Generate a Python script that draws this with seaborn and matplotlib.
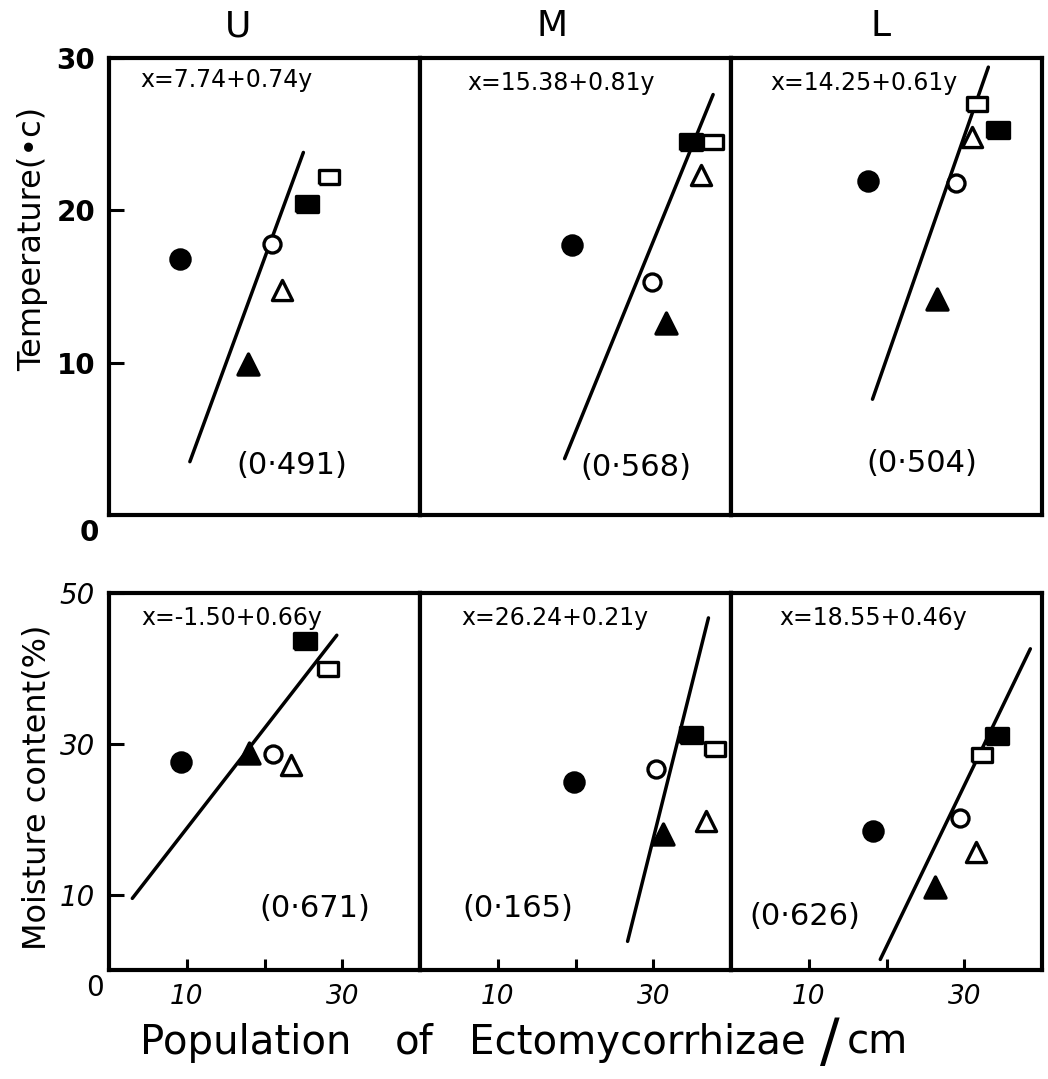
import matplotlib
matplotlib.use("Agg")
import matplotlib.pyplot as plt
import seaborn as sns
import pandas as pd

sns.set_theme(style="white")
plt.rcParams['font.family'] = ['DejaVu Sans']
plt.rcParams['text.color'] = 'black'
plt.rcParams['axes.labelcolor'] = 'black'
plt.rcParams['xtick.color'] = 'black'
plt.rcParams['ytick.color'] = 'black'

# ---------------- data ----------------
sites = ["U", "M", "L"]
symbols = ["filled_circle", "open_circle", "filled_triangle",
           "open_triangle", "filled_square", "open_square"]

# Temperature (top row): population (x) and temperature (y) per symbol
temp_pop = {
    "U": [9.1, 21.0, 17.9, 22.2, 25.5, 28.3],
    "M": [19.6, 29.9, 31.6, 36.2, 34.8, 37.7],
    "L": [17.6, 28.9, 26.5, 31.0, 34.3, 31.6],
}
temp_val = {
    "U": [16.8, 17.8, 9.9, 14.8, 20.4, 22.2],
    "M": [17.7, 15.3, 12.6, 22.3, 24.5, 24.5],
    "L": [21.9, 21.8, 14.2, 24.8, 25.3, 27.0],
}
temp_line_x = {"U": [10.4, 25.0], "M": [18.6, 37.7], "L": [18.2, 33.1]}
temp_line_y = {"U": [3.5, 23.8], "M": [3.7, 27.6], "L": [7.6, 29.4]}
temp_eq = {"U": "x=7.74+0.74y", "M": "x=15.38+0.81y", "L": "x=14.25+0.61y"}
temp_r = {"U": "(0·491)", "M": "(0·568)", "L": "(0·504)"}

# Moisture (bottom row)
moist_pop = {
    "U": [9.3, 21.1, 18.0, 23.4, 25.2, 28.2],
    "M": [19.8, 30.3, 31.3, 36.8, 34.8, 37.9],
    "L": [18.2, 29.5, 26.2, 31.5, 34.2, 32.3],
}
moist_val = {
    "U": [27.6, 28.6, 28.8, 27.2, 43.6, 39.9],
    "M": [24.9, 26.7, 18.0, 19.8, 31.2, 29.3],
    "L": [18.4, 20.1, 11.0, 15.6, 31.1, 28.5],
}
moist_line_x = {"U": [3.0, 29.3], "M": [26.7, 37.1], "L": [19.2, 38.5]}
moist_line_y = {"U": [9.5, 44.4], "M": [3.8, 46.7], "L": [1.4, 42.6]}
moist_eq = {"U": "x=-1.50+0.66y", "M": "x=26.24+0.21y", "L": "x=18.55+0.46y"}
moist_r = {"U": "(0·671)", "M": "(0·165)", "L": "(0·626)"}

temp_yticks = [10, 20, 30]
moist_yticks = [10, 30, 50]
pop_xticks = [10, 20, 30]
pop_xticklabels = ["10", "", "30"]

# ---------------- styles ----------------
rect = [(-1, -0.72), (1, -0.72), (1, 0.72), (-1, 0.72), (-1, -0.72)]
mstyle = {
    "filled_circle":   dict(marker="o", s=190, color="black"),
    "open_circle":     dict(marker="o", s=150, color="white"),
    "filled_triangle": dict(marker="^", s=230, color="black"),
    "open_triangle":   dict(marker="^", s=210, color="white"),
    "filled_square":   dict(marker=rect, s=230, color="black"),
    "open_square":     dict(marker=rect, s=190, color="white"),
}

W, H = 1048, 1079
fig = plt.figure(figsize=(W / 100, H / 100), dpi=100)

lefts = [109, 420, 731]
pw = 311
rows = [(58, 515), (593, 970)]

eq_pos_top = {"U": (0.379, 0.952), "M": (0.453, 0.946), "L": (0.428, 0.946)}
r_pos_top = {"U": (0.588, 0.109), "M": (0.695, 0.105), "L": (0.614, 0.112)}
eq_pos_bot = {"U": (0.395, 0.935), "M": (0.434, 0.935), "L": (0.457, 0.935)}
r_pos_bot = {"U": (0.662, 0.164), "M": (0.315, 0.164), "L": (0.238, 0.143)}
title_x = {"U": 0.415, "M": 0.424, "L": 0.482}


def draw_panel(ax, xs, ys, lx, ly):
    df = pd.DataFrame({"pop": xs, "val": ys, "sym": symbols})
    sns.lineplot(x=lx, y=ly, ax=ax, color="black", lw=2.5, sort=False,
                 zorder=2)
    for sym in symbols:
        sub = df[df["sym"] == sym]
        st = mstyle[sym]
        sns.scatterplot(data=sub, x="pop", y="val", ax=ax, marker=st["marker"],
                        s=st["s"], color=st["color"], edgecolor="black",
                        linewidth=2.4, zorder=3)


for r, (top, bot) in enumerate(rows):
    for c, site in enumerate(sites):
        ax = fig.add_axes([lefts[c] / W, 1 - bot / H, pw / W, (bot - top) / H])
        if r == 0:
            draw_panel(ax, temp_pop[site], temp_val[site],
                       temp_line_x[site], temp_line_y[site])
            ax.set_ylim(0, 30)
            ax.set_xticks([])
            ex, ey = eq_pos_top[site]
            ax.text(ex, ey, temp_eq[site], transform=ax.transAxes,
                    ha="center", va="center", fontsize=17)
            rx, ry = r_pos_top[site]
            ax.text(rx, ry, temp_r[site], transform=ax.transAxes,
                    ha="center", va="center", fontsize=22)
            ax.text(title_x[site], 1.070, site, transform=ax.transAxes,
                    ha="center", va="center", fontsize=26)
            if c == 0:
                ax.set_yticks(temp_yticks)
                ax.set_yticklabels([str(t) for t in temp_yticks],
                                   fontsize=20, fontweight="bold")
                ax.text(-0.064, -0.039, "0", transform=ax.transAxes,
                        ha="center", va="center", fontsize=20,
                        fontweight="bold")
            else:
                ax.set_yticks([])
        else:
            draw_panel(ax, moist_pop[site], moist_val[site],
                       moist_line_x[site], moist_line_y[site])
            ax.set_ylim(0, 50)
            ax.set_xticks(pop_xticks)
            ax.set_xticklabels(pop_xticklabels, fontsize=19, style="italic")
            ex, ey = eq_pos_bot[site]
            ax.text(ex, ey, moist_eq[site], transform=ax.transAxes,
                    ha="center", va="center", fontsize=17)
            rx, ry = r_pos_bot[site]
            ax.text(rx, ry, moist_r[site], transform=ax.transAxes,
                    ha="center", va="center", fontsize=22)
            if c == 0:
                ax.set_yticks(moist_yticks)
                ax.set_yticklabels([str(t) for t in moist_yticks],
                                   fontsize=20, style="italic")
                ax.text(-0.045, -0.048, "0", transform=ax.transAxes,
                        ha="center", va="center", fontsize=20)
            else:
                ax.set_yticks([])
        ax.set_xlim(0, 40)
        ax.set_xlabel("")
        ax.set_ylabel("")
        ax.tick_params(axis="y", direction="in", length=11, width=2.2,
                       pad=10, colors="black", left=True)
        ax.tick_params(axis="x", direction="in", length=8, width=2.2,
                       pad=10, colors="black", bottom=True)
        for sp in ax.spines.values():
            sp.set_linewidth(3)
            sp.set_color("black")
        ax.set_facecolor("white")

# axis titles
fig.text(0.031, 0.779, "Temperature(•c)", rotation=90, ha="center",
         va="center", fontsize=23)
fig.text(0.035, 0.270, "Moisture content(%)", rotation=90, ha="center",
         va="center", fontsize=23)

xl_y = 1 - 1043 / H
fig.text(246 / W, xl_y, "Population", ha="center", va="center", fontsize=29)
fig.text(414 / W, xl_y, "of", ha="center", va="center", fontsize=29)
fig.text(637 / W, xl_y, "Ectomycorrhizae", ha="center", va="center",
         fontsize=29)
fig.text(830 / W, 1 - 1044 / H, "/", ha="center", va="center", fontsize=42)
fig.text(877 / W, xl_y, "cm", ha="center", va="center", fontsize=29)

fig.savefig("out.png", dpi=100, facecolor="white")
